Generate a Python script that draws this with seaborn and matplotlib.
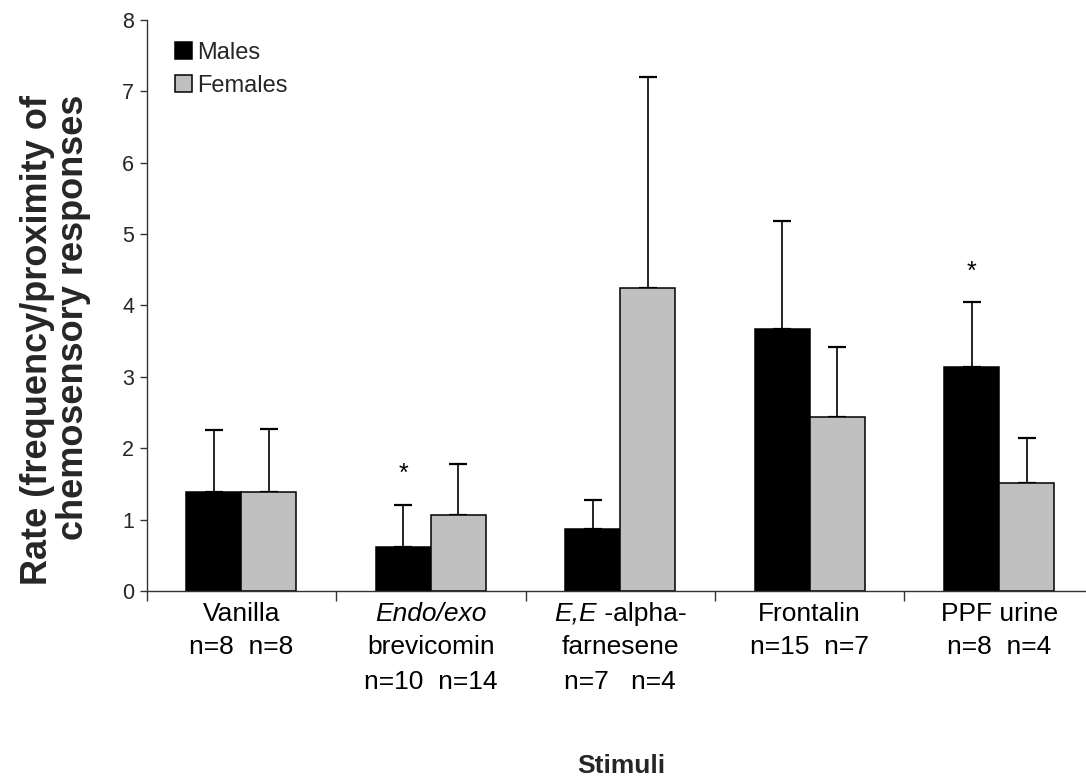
import matplotlib
matplotlib.use("Agg")
import matplotlib.pyplot as plt
import matplotlib.transforms as mtransforms
from matplotlib.patches import Patch
import numpy as np
import pandas as pd
import seaborn as sns

# Mean response rates and standard errors per stimulus and sex
categories = ["Vanilla", "Endo/exo brevicomin", "E,E-alpha-farnesene", "Frontalin", "PPF urine"]
males = [1.38, 0.62, 0.87, 3.67, 3.14]
females = [1.39, 1.07, 4.25, 2.44, 1.51]
males_se = [0.87, 0.59, 0.40, 1.51, 0.91]
females_se = [0.88, 0.71, 2.95, 0.98, 0.64]

# Group labels under the axis: each line is a list of (text, italic) pieces
label_lines = [
    [[("Vanilla", False)], [("n=8  n=8", False)]],
    [[("Endo/exo", True)], [("brevicomin", False)], [("n=10  n=14", False)]],
    [[("E,E", True), (" -alpha-", False)], [("farnesene", False)], [("n=7   n=4", False)]],
    [[("Frontalin", False)], [("n=15  n=7", False)]],
    [[("PPF urine", False)], [("n=8  n=4", False)]],
]
# groups whose male bar is marked as significant
significant_males = [1, 4]
yticks = [0, 1, 2, 3, 4, 5, 6, 7, 8]

sns.set_theme(style="white")
plt.rcParams["font.family"] = ["Liberation Sans", "DejaVu Sans"]

df = pd.DataFrame({
    "Stimulus": categories * 2,
    "Sex": ["Males"] * len(categories) + ["Females"] * len(categories),
    "Rate": males + females,
})

fig = plt.figure(figsize=(10.86, 7.78), dpi=100)
ax = fig.add_axes([0.1351, 0.2404, 0.8721, 0.7339])

sns.barplot(data=df, x="Stimulus", y="Rate", hue="Sex", order=categories,
            hue_order=["Males", "Females"], palette=["black", "#C0C0C0"],
            width=0.58, edgecolor="black", linewidth=1.1, errorbar=None,
            ax=ax, legend=False)

# one-sided (upper) standard error bars
for container, se in zip(ax.containers, [males_se, females_se]):
    xs = [p.get_x() + p.get_width() / 2 for p in container.patches]
    hs = [p.get_height() for p in container.patches]
    ax.errorbar(xs, hs, yerr=[np.zeros(len(se)), se], fmt="none",
                ecolor="black", elinewidth=1.2, capsize=6.5, capthick=1.6,
                zorder=0.5)

# significance markers above the male bars
male_patches = ax.containers[0].patches
for i in significant_males:
    p = male_patches[i]
    ax.text(p.get_x() + p.get_width() / 2, males[i] + males_se[i] + 0.33, "*",
            ha="center", va="baseline", fontsize=18, color="black")

ax.set_xlim(-0.5, len(categories) - 0.5)
ax.set_ylim(0, 8)
ax.set_yticks(yticks)
ax.set_yticklabels([str(t) for t in yticks], fontsize=15.5)
ax.set_xticks(np.arange(len(categories) + 1) - 0.5)
ax.set_xticklabels([])
ax.set_xlabel("")
ax.set_ylabel("")
ax.tick_params(axis="y", direction="out", length=5, width=1, color="#333333",
               pad=4, left=True)
ax.tick_params(axis="x", direction="out", length=7, width=1, color="#333333",
               bottom=True)
for side in ["top", "right"]:
    ax.spines[side].set_visible(False)
for side in ["left", "bottom"]:
    ax.spines[side].set_color("#333333")
    ax.spines[side].set_linewidth(1.0)

# group labels under the axis, mixing italic and upright pieces on a line
renderer = fig.canvas.get_renderer()
trans = mtransforms.blended_transform_factory(ax.transData, fig.transFigure)
line_px = [621, 654, 689]
label_size = 19
for i, lines in enumerate(label_lines):
    for j, pieces in enumerate(lines):
        y = 1 - line_px[j] / 778
        texts = [ax.text(i, y, txt, transform=trans, ha="left", va="baseline",
                         fontsize=label_size, style="italic" if it else "normal",
                         color="black", clip_on=False)
                 for txt, it in pieces]
        widths = [t.get_window_extent(renderer).width for t in texts]
        x0 = ax.transData.transform((i, 0))[0] - sum(widths) / 2
        for t, w in zip(texts, widths):
            t.set_transform(mtransforms.blended_transform_factory(
                mtransforms.IdentityTransform(), fig.transFigure))
            t.set_x(x0)
            x0 += w

# legend
handles = [Patch(facecolor="black", edgecolor="black", linewidth=1.1),
           Patch(facecolor="#C0C0C0", edgecolor="black", linewidth=1.1)]
ax.legend(handles, ["Males", "Females"], loc="upper left",
          bbox_to_anchor=(0.020, 0.978), frameon=False, fontsize=17,
          handlelength=0.7, handleheight=0.7, handletextpad=0.25,
          labelspacing=0.45, borderaxespad=0.0)

# axis titles
fig.text(38 / 1086, 1 - 95 / 778, "Rate (frequency/proximity of", rotation=90,
         ha="center", va="top", fontsize=26, fontweight="bold")
fig.text(74 / 1086, 1 - 95 / 778, "chemosensory responses", rotation=90,
         ha="center", va="top", fontsize=26, fontweight="bold")
fig.text(621 / 1086, 1 - 773 / 778, "Stimuli", ha="center", va="baseline",
         fontsize=19, fontweight="bold")

fig.savefig("out.png", dpi=100)
